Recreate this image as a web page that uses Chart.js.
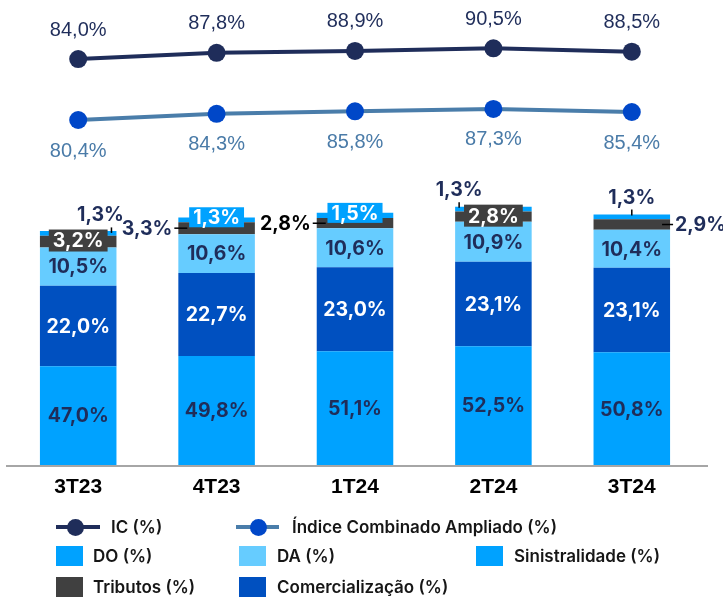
<!DOCTYPE html>
<html>
<head>
<meta charset="utf-8">
<script src="https://cdn.jsdelivr.net/npm/chart.js@4.4.1/dist/chart.umd.min.js"></script>
<style>
  html, body { margin: 0; padding: 0; background: #ffffff; }
  #wrap { position: relative; width: 723px; height: 598px; overflow: hidden; }
  #c { position: absolute; left: 0; top: 0; }
  .lg { position: absolute; font-family: Inter, 'Liberation Sans', sans-serif; font-weight: 600; font-size: 17px; line-height: 20px; color: #161616; white-space: nowrap; }
  .sq { position: absolute; width: 27px; height: 20px; }
  .ln { position: absolute; height: 4px; }
  .dot { position: absolute; width: 17px; height: 17px; border-radius: 50%; }
</style>
</head>
<body>
<div id="wrap">
  <canvas id="c" width="723" height="598"></canvas>

  <div class="ln" style="left:56px; top:525px; width:44px; background:#1F2D5A;"></div>
  <div class="dot" style="left:67px; top:518.5px; background:#1F2D5A;"></div>
  <div class="lg" style="left:111px; top:517px;">IC (%)</div>

  <div class="ln" style="left:236px; top:525px; width:43px; background:#4A7DAA;"></div>
  <div class="dot" style="left:249.5px; top:518.5px; background:#0047C8;"></div>
  <div class="lg" style="left:292px; top:517px;">Índice Combinado Ampliado (%)</div>

  <div class="sq" style="left:56px; top:546px; background:#00A2FF;"></div>
  <div class="lg" style="left:93px; top:546px;">DO (%)</div>

  <div class="sq" style="left:239px; top:546px; background:#66CCFF;"></div>
  <div class="lg" style="left:277px; top:546px;">DA (%)</div>

  <div class="sq" style="left:476px; top:546px; background:#00A2FF;"></div>
  <div class="lg" style="left:514px; top:546px;">Sinistralidade (%)</div>

  <div class="sq" style="left:56px; top:577px; background:#404040;"></div>
  <div class="lg" style="left:93px; top:577px;">Tributos (%)</div>

  <div class="sq" style="left:239px; top:577px; background:#0050C0;"></div>
  <div class="lg" style="left:277px; top:577px;">Comercialização (%)</div>
</div>
<script>
// ---- data ----
const categories = ['3T23', '4T23', '1T24', '2T24', '3T24'];
const ic = [84.0, 87.8, 88.9, 90.5, 88.5];
const icAmpliado = [80.4, 84.3, 85.8, 87.3, 85.4];
const sinistralidade = [47.0, 49.8, 51.1, 52.5, 50.8];
const comercializacao = [22.0, 22.7, 23.0, 23.1, 23.1];
const da = [10.5, 10.6, 10.6, 10.9, 10.4];
const tributos = [3.2, 3.3, 2.8, 2.8, 2.9];
const doValues = [1.3, 1.3, 1.5, 1.3, 1.3];

// ---- styles ----
const NAVY = '#1F2D5A';
const BAR_FONT = '700 19.5px Inter, "Liberation Sans", sans-serif';
const LINE_FONT = '20px "Liberation Sans", Arial, sans-serif';

const fmt = v => v.toFixed(1).replace('.', ',') + '%';

const labelPlugin = {
  id: 'valueLabels',
  afterDatasetsDraw(chart) {
    const ctx = chart.ctx;
    const area = chart.chartArea;
    // baseline axis
    ctx.save();
    ctx.strokeStyle = '#A6A6A6';
    ctx.lineWidth = 2;
    ctx.beginPath();
    ctx.moveTo(6, area.bottom + 1);
    ctx.lineTo(708, area.bottom + 1);
    ctx.stroke();
    ctx.restore();

    chart.data.datasets.forEach((ds, di) => {
      const cfg = ds.labelCfg;
      if (!cfg) return;
      const meta = chart.getDatasetMeta(di);
      meta.data.forEach((el, i) => {
        const text = fmt(ds.data[i]);
        const mode = Array.isArray(cfg.mode) ? cfg.mode[i] : cfg.mode;
        const color = Array.isArray(cfg.color) ? cfg.color[i] : cfg.color;
        ctx.save();
        ctx.font = cfg.font;
        ctx.textBaseline = 'middle';
        ctx.textAlign = 'center';
        ctx.fillStyle = color;
        ctx.strokeStyle = '#000';
        ctx.lineWidth = 1.5;
        if (mode === 'pt-above') {
          ctx.fillText(text, el.x, el.y - 29);
        } else if (mode === 'pt-below') {
          ctx.fillText(text, el.x, el.y + 31);
        } else {
          const top = Math.min(el.y, el.base);
          const bot = Math.min(Math.max(el.y, el.base), area.bottom);
          const cy = (top + bot) / 2;
          const left = el.x - el.width / 2;
          const right = el.x + el.width / 2;
          if (mode === 'center') {
            ctx.fillText(text, el.x, cy + 1);
          } else if (mode === 'box') {
            const w = ctx.measureText(text).width + 8;
            const h = cfg.boxH;
            const by = cy + cfg.boxDy;
            ctx.fillStyle = cfg.boxColor;
            ctx.fillRect(el.x - w / 2, by - h / 2, w, h);
            ctx.fillStyle = '#ffffff';
            ctx.fillText(text, el.x, by + 1);
          } else if (mode === 'left') {
            ctx.beginPath();
            ctx.moveTo(left - 4, cy); ctx.lineTo(left + 9, cy); ctx.stroke();
            ctx.textAlign = 'right';
            ctx.fillText(text, left - 6, cy + 1);
          } else if (mode === 'right') {
            ctx.beginPath();
            ctx.moveTo(right - 8, cy); ctx.lineTo(right + 3, cy); ctx.stroke();
            ctx.textAlign = 'left';
            ctx.fillText(text, right + 5, cy + 1);
          } else if (mode === 'above') {
            ctx.beginPath();
            ctx.moveTo(el.x, top - 5); ctx.lineTo(el.x, top + 1); ctx.stroke();
            ctx.fillText(text, el.x, top - 16);
          } else if (mode === 'above-left') {
            ctx.beginPath();
            ctx.moveTo(left + 4, top - 4.5); ctx.lineTo(left + 4, top + 1); ctx.stroke();
            ctx.fillText(text, left + 4, top - 17);
          } else if (mode === 'above-right') {
            ctx.beginPath();
            ctx.moveTo(right - 5, top - 3.5); ctx.lineTo(right - 5, top + 2); ctx.stroke();
            ctx.fillText(text, right - 16, top - 16);
          }
        }
        ctx.restore();
      });
    });
  }
};

new Chart(document.getElementById('c'), {
  type: 'bar',
  data: {
    labels: categories,
    datasets: [
      {
        type: 'line', label: 'IC (%)', data: ic, yAxisID: 'yIC',
        borderColor: NAVY, backgroundColor: NAVY, borderWidth: 4,
        pointRadius: 9, pointBackgroundColor: NAVY, pointBorderWidth: 0, tension: 0,
        labelCfg: { mode: 'pt-above', color: NAVY, font: LINE_FONT }
      },
      {
        type: 'line', label: 'Índice Combinado Ampliado (%)', data: icAmpliado, yAxisID: 'yAmp',
        borderColor: '#4A7DAA', backgroundColor: '#0047C8', borderWidth: 4,
        pointRadius: 9, pointBackgroundColor: '#0047C8', pointBorderWidth: 0, tension: 0,
        labelCfg: { mode: 'pt-below', color: '#4A7BA8', font: LINE_FONT }
      },
      {
        label: 'Sinistralidade (%)', data: sinistralidade, backgroundColor: '#00A2FF', yAxisID: 'y',
        labelCfg: { mode: 'center', color: NAVY, font: BAR_FONT }
      },
      {
        label: 'Comercialização (%)', data: comercializacao, backgroundColor: '#0050C0', yAxisID: 'y',
        labelCfg: { mode: 'center', color: '#ffffff', font: BAR_FONT }
      },
      {
        label: 'DA (%)', data: da, backgroundColor: '#66CCFF', yAxisID: 'y',
        labelCfg: { mode: 'center', color: NAVY, font: BAR_FONT }
      },
      {
        label: 'Tributos (%)', data: tributos, backgroundColor: '#404040', yAxisID: 'y',
        labelCfg: { mode: ['box', 'left', 'left', 'box', 'right'], color: [NAVY, NAVY, '#000000', NAVY, NAVY],
                    font: BAR_FONT, boxColor: '#404040', boxH: 22, boxDy: -1 }
      },
      {
        label: 'DO (%)', data: doValues, backgroundColor: '#00A2FF', yAxisID: 'y',
        labelCfg: { mode: ['above-right', 'box', 'box', 'above-left', 'above'], color: NAVY,
                    font: BAR_FONT, boxColor: '#00A2FF', boxH: 20, boxDy: -2.5 }
      }
    ]
  },
  options: {
    responsive: false,
    animation: false,
    layout: { padding: { top: 10, left: 6, right: 22, bottom: 93 } },
    plugins: { legend: { display: false }, tooltip: { enabled: false } },
    datasets: { bar: { barPercentage: 0.553, categoryPercentage: 1 } },
    scales: {
      x: {
        stacked: true,
        grid: { display: false, drawTicks: false },
        border: { display: false },
        ticks: { font: { family: '"Liberation Sans", Arial, sans-serif', weight: 'bold', size: 21 }, color: '#000000', padding: 10 },
        afterFit(s) { s.height = 40; }
      },
      y: { stacked: true, display: false, min: 20, max: 144.4 },
      yIC: { display: false, min: -162.7, max: 113.8 },
      yAmp: { display: false, min: -135.2, max: 149.15 }
    }
  },
  plugins: [labelPlugin]
});
</script>
</body>
</html>
